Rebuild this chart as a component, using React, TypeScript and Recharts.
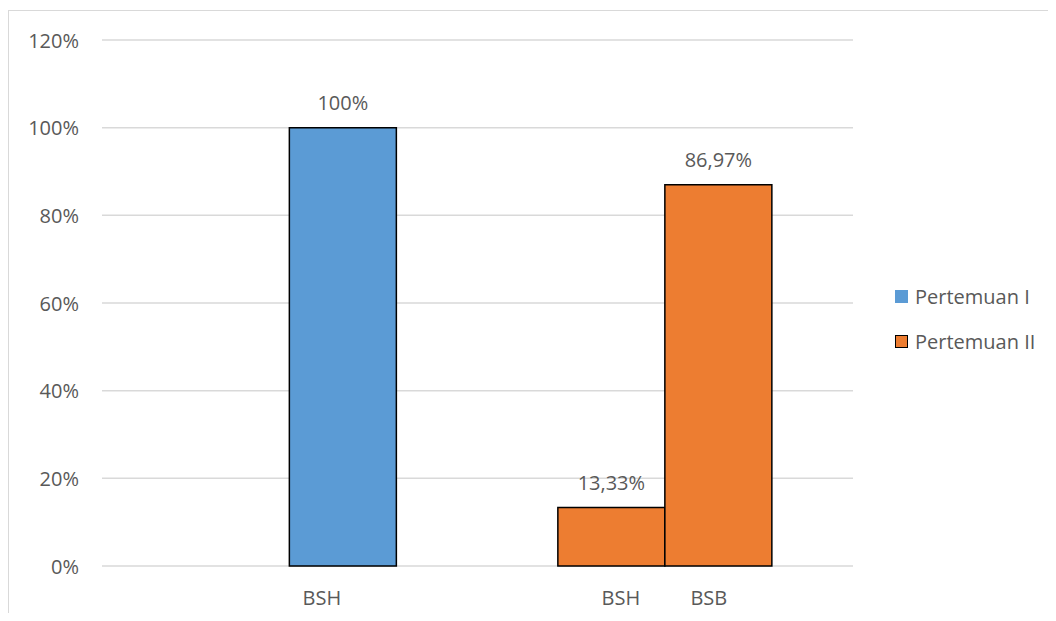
import { Bar, BarChart, CartesianGrid, Cell, LabelList, XAxis, YAxis } from "recharts";

const categories = ["Pertemuan I", "Pertemuan II"];
const leftValues: (number | null)[] = [null, 13.33];
const rightValues: (number | null)[] = [100, 86.97];
const leftNames = ["", "BSH"];
const rightNames = ["BSH", "BSB"];
const yTicks = [0, 20, 40, 60, 80, 100, 120];
const colors = ["#5B9BD5", "#ED7D31"];

// how far each bar's name sits from the bar centre in the original
const leftNameShift = [0, 9.5];
const rightNameShift = [-21, -9.5];

const data = categories.map((c, i) => ({
  name: c,
  left: leftValues[i],
  right: rightValues[i],
}));

const font = "'Open Sans', sans-serif";
const textColor = "#595959";

const fmt = (v: number) => (Number.isInteger(v) ? `${v}%` : `${v.toFixed(2).replace(".", ",")}%`);

function makeLabel(values: (number | null)[], names: string[], shifts: number[]) {
  return (props: any) => {
    const { x, y, width, height, value } = props;
    if (value == null) return null;
    const i = values.indexOf(Number(value));
    const cx = Number(x) + Number(width) / 2;
    const bottom = Number(y) + Number(height);
    return (
      <g>
        <text x={cx} y={Number(y) - 25} textAnchor="middle" dominantBaseline="central" fill={textColor} fontSize={20} fontFamily={font}>
          {fmt(Number(value))}
        </text>
        <text x={cx + (shifts[i] ?? 0)} y={bottom + 31} textAnchor="middle" dominantBaseline="central" fill={textColor} fontSize={20} fontFamily={font}>
          {names[i]}
        </text>
      </g>
    );
  };
}

function YTick(props: any) {
  const { x, y, payload } = props;
  return (
    <text x={x} y={y} textAnchor="end" dominantBaseline="central" fill={textColor} fontSize={20} fontFamily={font}>
      {`${payload.value}%`}
    </text>
  );
}

function LegendBox() {
  return (
    <div style={{ position: "absolute", left: 895, top: 274, fontFamily: font, fontSize: 20, color: textColor }}>
      {categories.map((c, i) => (
        <div key={c} style={{ display: "flex", alignItems: "center", height: 45 }}>
          <span
            style={{
              width: i === 1 ? 11 : 13,
              height: i === 1 ? 11 : 13,
              background: colors[i],
              border: i === 1 ? "1px solid #000" : "none",
              marginRight: 7,
              display: "inline-block",
            }}
          />
          {c}
        </div>
      ))}
    </div>
  );
}

export default function App() {
  return (
    <div style={{ position: "relative", width: 1056, height: 621, margin: -8, background: "#fff", overflow: "hidden" }}>
      <div
        style={{
          position: "absolute",
          left: 8,
          top: 10,
          width: 1060,
          height: 620,
          borderTop: "1px solid #d9d9d9",
          borderLeft: "1px solid #d9d9d9",
        }}
      />
      <div style={{ position: "absolute", left: 0, top: 0 }}>
        <BarChart
          width={1056}
          height={621}
          data={data}
          margin={{ top: 40, right: 203, bottom: 55, left: 0 }}
          barCategoryGap="21.4%"
          barGap={0}
        >
          <CartesianGrid vertical={false} stroke="#d9d9d9" strokeWidth={1.5} />
          <XAxis dataKey="name" tick={false} axisLine={false} tickLine={false} height={0} />
          <YAxis
            width={102}
            domain={[0, 120]}
            ticks={yTicks}
            axisLine={false}
            tickLine={false}
            tickSize={0}
            tickMargin={23}
            tick={<YTick />}
          />
          <Bar dataKey="left" stroke="#000" strokeWidth={1.5} isAnimationActive={false}>
            {data.map((_, i) => (
              <Cell key={i} fill={colors[i]} />
            ))}
            <LabelList dataKey="left" content={makeLabel(leftValues, leftNames, leftNameShift)} />
          </Bar>
          <Bar dataKey="right" stroke="#000" strokeWidth={1.5} isAnimationActive={false}>
            {data.map((_, i) => (
              <Cell key={i} fill={colors[i]} />
            ))}
            <LabelList dataKey="right" content={makeLabel(rightValues, rightNames, rightNameShift)} />
          </Bar>
        </BarChart>
      </div>
      <LegendBox />
    </div>
  );
}
